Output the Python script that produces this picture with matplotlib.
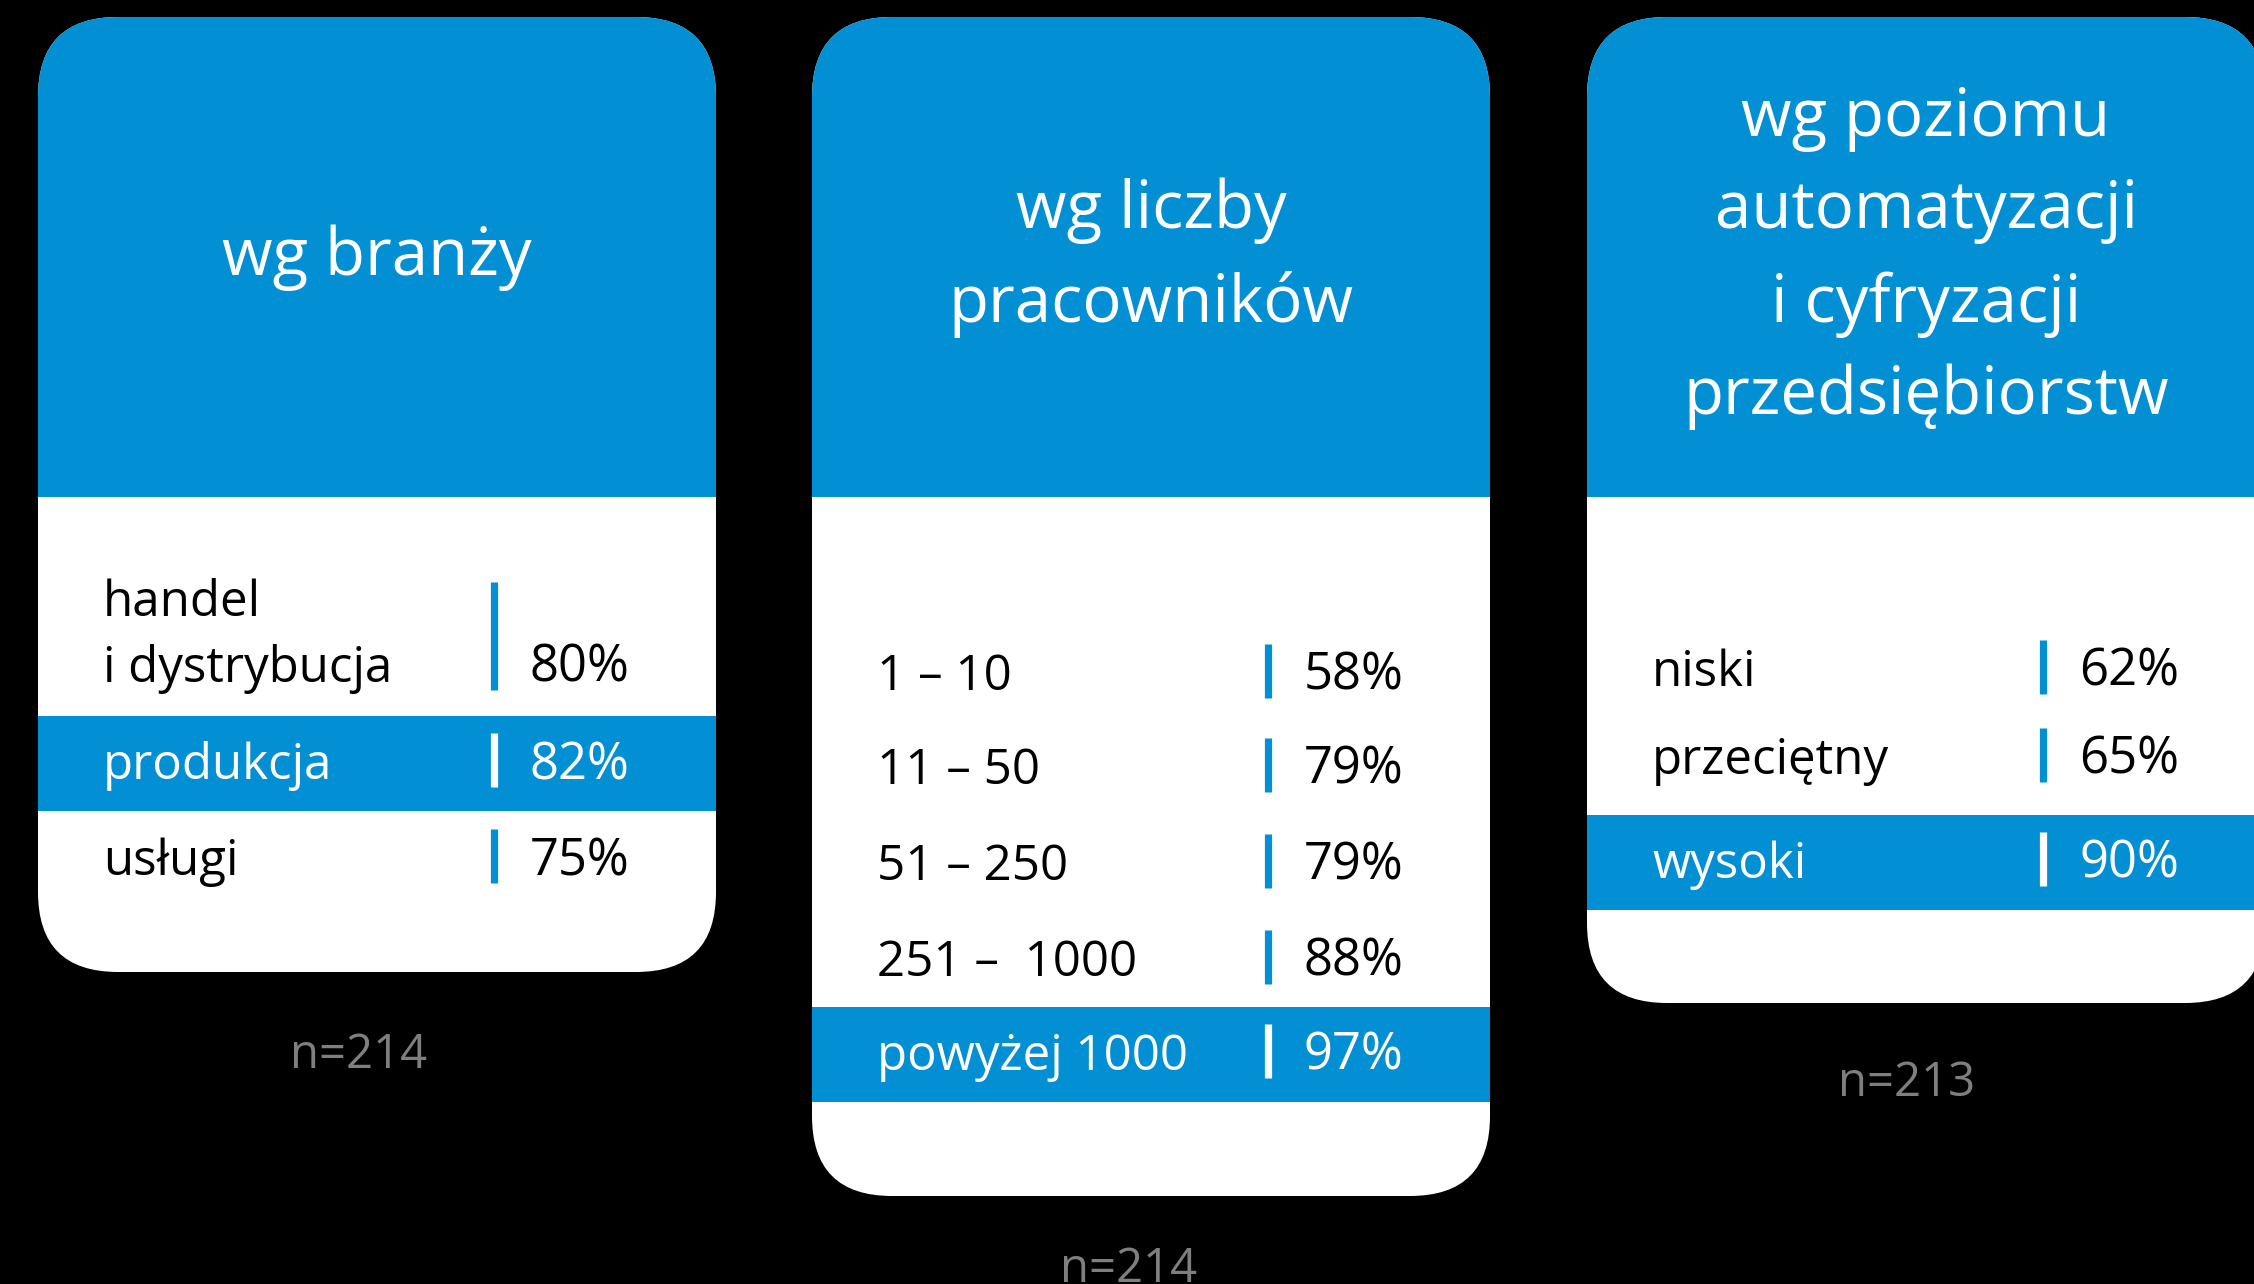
import matplotlib
matplotlib.use("Agg")
from matplotlib import pyplot as plt
from matplotlib.patches import FancyBboxPatch, Rectangle

plt.rcParams['font.family'] = ['Open Sans', 'DejaVu Sans']

BLUE = '#028fd4'
GREY = '#7f7f7f'

# data
titles = [["wg branży"],
          ["wg liczby", "pracowników"],
          ["wg poziomu", "automatyzacji", "i cyfryzacji", "przedsiębiorstw"]]
labels1 = ["handel\ni dystrybucja", "produkcja", "usługi"]
values1 = [80, 82, 75]
labels2 = ["1 – 10", "11 – 50", "51 – 250", "251 –  1000", "powyżej 1000"]
values2 = [58, 79, 79, 88, 97]
labels3 = ["niski", "przeciętny", "wysoki"]
values3 = [62, 65, 90]
highlight = [1, 4, 2]
sample_n = [214, 214, 213]

all_labels = [labels1, labels2, labels3]
all_values = [values1, values2, values3]

# layout (pixels)
W, H = 2254, 1284
card_x = [38, 812, 1587]
card_w = 678
card_top = 17
header_bottom = 497
card_bottom = [972, 1196, 1003]
row_base = [[682, 779, 875], [690, 784, 880, 976, 1070], [686, 774, 878]]
n_base = [1068, 1282, 1096]
n_cx = [359, 1129, 1907]

fig = plt.figure(figsize=(W / 100, H / 100), dpi=100)
fig.patch.set_facecolor('black')
ax = fig.add_axes([0, 0, 1, 1])
ax.set_xlim(0, W)
ax.set_ylim(H, 0)
ax.axis('off')

for c in range(3):
    x0 = card_x[c]
    card = FancyBboxPatch((x0, card_top), card_w, card_bottom[c] - card_top,
                          boxstyle="round,pad=0,rounding_size=80",
                          facecolor='white', edgecolor='none')
    ax.add_patch(card)
    head = Rectangle((x0, card_top), card_w, header_bottom - card_top,
                     facecolor=BLUE, edgecolor='none')
    ax.add_patch(head)
    head.set_clip_path(card)

    # title lines
    lines = titles[c]
    for j, line in enumerate(lines):
        y = 275 + (j - (len(lines) - 1) / 2) * 93
        ax.text(x0 + card_w / 2, y, line, ha='center', va='baseline',
                color='white', fontsize=47)

    for i, (lab, val) in enumerate(zip(all_labels[c], all_values[c])):
        base = row_base[c][i]
        hl = (i == highlight[c])
        fg = 'white' if hl else 'black'
        if hl:
            band = Rectangle((x0, base - 63), card_w, 95,
                             facecolor=BLUE, edgecolor='none')
            ax.add_patch(band)
            band.set_clip_path(card)
        parts = lab.split('\n')
        for j, p in enumerate(parts):
            ax.text(x0 + 65, base - (len(parts) - 1 - j) * 66, p,
                    ha='left', va='baseline', color=fg, fontsize=35.5)
        top = base - 46 - (len(parts) - 1) * 54
        ax.plot([x0 + 456, x0 + 456], [top, base + 8], color=BLUE if not hl else 'white',
                lw=5.2, solid_capstyle='butt')
        ax.text(x0 + 492, base, f"{val}%", ha='left', va='baseline',
                color=fg, fontsize=36.5)

    # sample size below card (the middle one is cut by the lower edge, as in the source)
    ax.text(n_cx[c], n_base[c], f"n={sample_n[c]}", ha='center', va='baseline',
            color=GREY, fontsize=34)

fig.savefig('out.png', dpi=100, facecolor='black')
